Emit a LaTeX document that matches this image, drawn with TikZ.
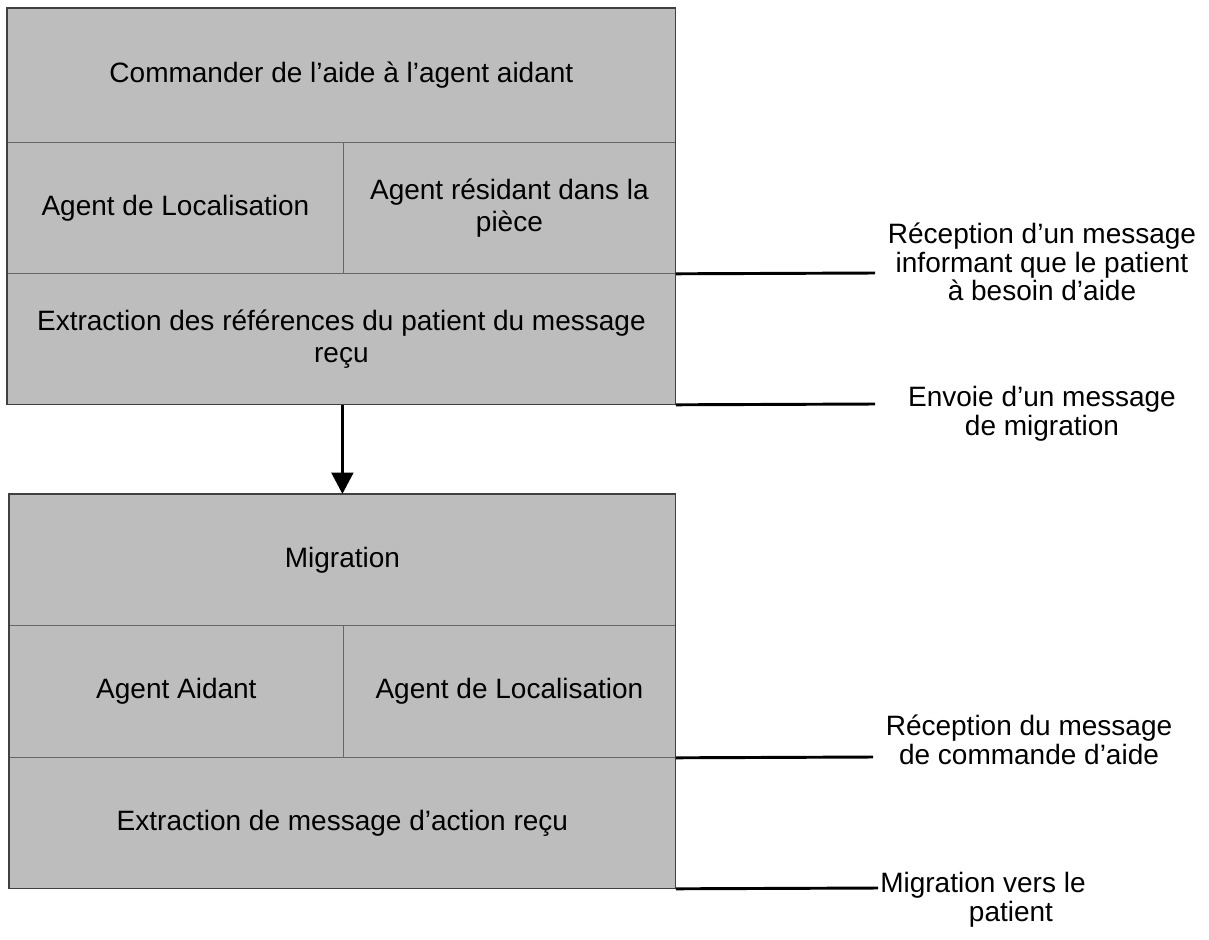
\documentclass[tikz,border=0pt]{standalone}
\usepackage{fontspec}
\setmainfont{Liberation Sans}
\usetikzlibrary{arrows.meta}
\definecolor{boxgray}{gray}{0.74}
\begin{document}
\begin{tikzpicture}[x=0.75pt,y=-0.75pt,
  cell/.style={draw=black!60, line width=0.6pt, fill=boxgray, inner sep=0pt,
    anchor=north west, align=center, font=\fontsize{21}{24}\selectfont},
  outline/.style={draw=black!75, line width=0.9pt},
  lbl/.style={align=center, inner sep=0pt, font=\fontsize{21}{21.5}\selectfont},
  tie/.style={line width=2.2pt, black},
  flow/.style={line width=2.8pt, black, -{Triangle[length=16pt,width=16pt]}}]
\useasboundingbox (0,0) rectangle (1209,939);

% upper block
\node[cell, minimum width=501pt, minimum height=100.5pt] (cmd) at (7,8)
  {Commander de l’aide à l’agent aidant};
\node[cell, minimum width=252pt, minimum height=98.25pt] (locA) at (7,142)
  {Agent de Localisation};
\node[cell, minimum width=249pt, minimum height=98.25pt] (res) at (343,142)
  {Agent résidant dans la\\pièce};
\node[cell, minimum width=501pt, minimum height=98.25pt] (ext) at (7,273)
  {Extraction des références du patient du message\\reçu};
\draw[outline] (cmd.north west) rectangle (ext.south east);

% lower block
\node[cell, minimum width=499.5pt, minimum height=98.25pt] (mig) at (9,494)
  {Migration};
\node[cell, minimum width=250.5pt, minimum height=99pt] (aid) at (9,625)
  {Agent Aidant};
\node[cell, minimum width=249pt, minimum height=99pt] (locB) at (343,625)
  {Agent de Localisation};
\node[cell, minimum width=499.5pt, minimum height=98.25pt] (act) at (9,757)
  {Extraction de message d’action reçu};
\draw[outline] (mig.north west) rectangle (act.south east);

% flow between the blocks
\draw[flow] (ext.south -| mig.north) -- (mig.north);

% event labels on the right
\node[lbl] (ev1) at (1042,262) {Réception d’un message\\informant que le patient\\à besoin d’aide};
\node[lbl] (ev2) at (1042,414) {Envoie d’un message\\de migration};
\node[lbl] (ev3) at (1029,740) {Réception du message\\de commande d’aide};
\node[lbl, anchor=north west] (ev4) at (880,872) {Migration vers le\\\hspace*{2em}patient};

\coordinate (e1) at (875,273);
\coordinate (e2) at (875,404);
\coordinate (e3) at (873,757);
\coordinate (e4) at (878,888);
\draw[tie] (res.south east) -- (e1);
\draw[tie] (ext.south east) -- (e2);
\draw[tie] (locB.south east) -- (e3);
\draw[tie] (act.south east) -- (e4);
\end{tikzpicture}
\end{document}
